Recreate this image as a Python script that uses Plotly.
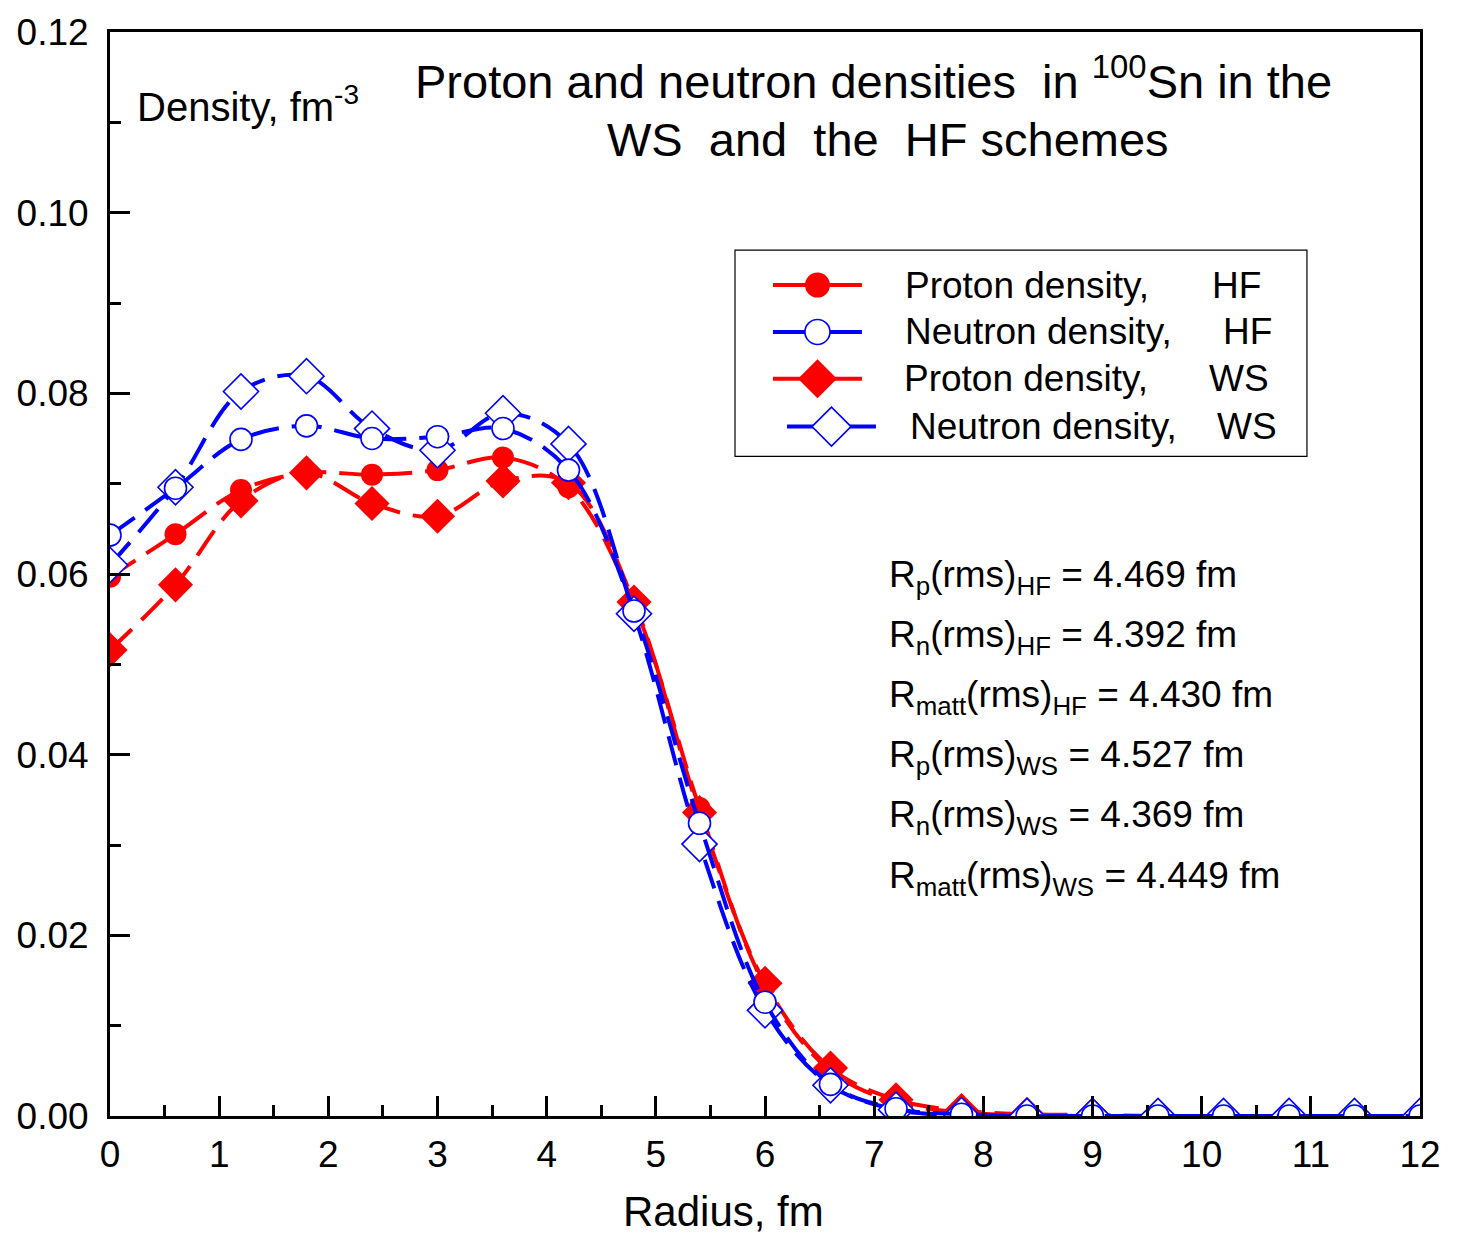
import plotly.graph_objects as go

# Radial grid (fm)
radius = [0.0, 0.6, 1.2, 1.8, 2.4, 3.0, 3.6, 4.2, 4.8, 5.4, 6.0, 6.6,
          7.2, 7.8, 8.4, 9.0, 9.6, 10.2, 10.8, 11.4, 12.0]

# Densities (fm^-3)
proton_hf = [0.0597, 0.0644, 0.0693, 0.0712, 0.0710, 0.0715, 0.0729, 0.0696,
             0.0566, 0.0341, 0.0144, 0.0050, 0.0015, 0.0004, 0.0001, 0.0,
             0.0, 0.0, 0.0, 0.0, 0.0]
neutron_hf = [0.0643, 0.0695, 0.0749, 0.0764, 0.0750, 0.0752, 0.0761, 0.0715,
              0.0559, 0.0324, 0.0126, 0.0035, 0.0008, 0.0002, 0.0, 0.0,
              0.0, 0.0, 0.0, 0.0, 0.0]
proton_ws = [0.0516, 0.0588, 0.0681, 0.0712, 0.0678, 0.0664, 0.0703, 0.0701,
             0.0569, 0.0336, 0.0147, 0.0053, 0.0018, 0.0006, 0.0002, 0.0001,
             0.0, 0.0, 0.0, 0.0, 0.0]
neutron_ws = [0.0610, 0.0696, 0.0802, 0.0819, 0.0761, 0.0737, 0.0778, 0.0744,
              0.0556, 0.0301, 0.0117, 0.0034, 0.0007, 0.0001, 0.0, 0.0,
              0.0, 0.0, 0.0, 0.0, 0.0]

series_names = ["Proton density,", "Neutron density,", "Proton density,", "Neutron density,"]
series_schemes = ["HF", "HF", "WS", "WS"]

rms_labels = [
    "R<sub>p</sub>(rms)<sub>HF</sub> = 4.469 fm",
    "R<sub>n</sub>(rms)<sub>HF</sub> = 4.392 fm",
    "R<sub>matt</sub>(rms)<sub>HF</sub> = 4.430 fm",
    "R<sub>p</sub>(rms)<sub>WS</sub> = 4.527 fm",
    "R<sub>n</sub>(rms)<sub>WS</sub> = 4.369 fm",
    "R<sub>matt</sub>(rms)<sub>WS</sub> = 4.449 fm",
]

FONT = "Liberation Sans, Arial, sans-serif"
RED = "#FF0000"
BLUE = "#0000FF"

styles = [
    dict(color=RED, symbol="circle", size=22, fill=RED, lw=0),
    dict(color=BLUE, symbol="circle", size=22, fill="white", lw=1.6),
    dict(color=RED, symbol="diamond", size=27, fill=RED, lw=0),
    dict(color=BLUE, symbol="diamond", size=27, fill="white", lw=1.6),
]
# drawing order: proton HF, proton WS, neutron WS, neutron HF (open circles on top)
order = [0, 2, 3, 1]
data = [proton_hf, neutron_hf, proton_ws, neutron_ws]

fig = go.Figure()
for i in order:
    s = styles[i]
    fig.add_trace(go.Scatter(
        x=radius, y=data[i], mode="lines+markers",
        line=dict(color=s["color"], width=4, dash="30px,13px", shape="spline", smoothing=1.0),
        marker=dict(symbol=s["symbol"], size=s["size"], color=s["fill"],
                    line=dict(color=s["color"], width=s["lw"])),
        showlegend=False, hoverinfo="skip",
    ))

# Legend drawn inside the frame on an overlay axis spanning the plot (0..1)
leg_rows = [0.7665, 0.7233, 0.6801, 0.6360]
leg_x0 = [0.5061, 0.5061, 0.5061, 0.5168]
leg_len = 0.0679
leg_text_x = [0.6053, 0.6053, 0.6045, 0.6092]
leg_scheme_x = [0.8397, 0.8481, 0.8374, 0.8435]
for k in range(4):
    s = styles[k]
    x0 = leg_x0[k]
    fig.add_trace(go.Scatter(
        x=[x0, x0 + leg_len / 2, x0 + leg_len], y=[leg_rows[k]] * 3,
        xaxis="x2", yaxis="y2", mode="lines+markers",
        line=dict(color=s["color"], width=4),
        marker=dict(symbol=s["symbol"], size=s["size"] + 3, color=s["fill"],
                    opacity=[0, 1, 0], line=dict(color=s["color"], width=s["lw"])),
        showlegend=False, hoverinfo="skip", cliponaxis=False,
    ))

annotations = []
for k in range(4):
    annotations.append(dict(x=leg_text_x[k], y=leg_rows[k], xref="paper", yref="paper",
                            text=series_names[k], showarrow=False, xanchor="left",
                            yanchor="middle", font=dict(size=37, family=FONT, color="black")))
    annotations.append(dict(x=leg_scheme_x[k], y=leg_rows[k], xref="paper", yref="paper",
                            text=series_schemes[k], showarrow=False, xanchor="left",
                            yanchor="middle", font=dict(size=37, family=FONT, color="black")))

rms_y = [575, 635, 695, 756, 816, 877]
for lbl, py in zip(rms_labels, rms_y):
    annotations.append(dict(x=0.5931, y=(1116 - py) / 1088, xref="paper", yref="paper",
                            text=lbl, showarrow=False, xanchor="left", yanchor="middle",
                            font=dict(size=37, family=FONT, color="black")))

annotations += [
    dict(x=0.5832, y=0.9577, xref="paper", yref="paper",
         text="Proton and neutron densities  in <sup>100</sup>Sn in the",
         showarrow=False, xanchor="center", yanchor="middle",
         font=dict(size=47, family=FONT, color="black")),
    dict(x=0.5939, y=0.9008, xref="paper", yref="paper",
         text="WS  and  the  HF schemes",
         showarrow=False, xanchor="center", yanchor="middle",
         font=dict(size=47, family=FONT, color="black")),
    dict(x=0.0191, y=0.9338, xref="paper", yref="paper",
         text="Density, fm<sup>-3</sup>",
         showarrow=False, xanchor="left", yanchor="middle",
         font=dict(size=40, family=FONT, color="black")),
    dict(x=0.468, y=-0.0882, xref="paper", yref="paper",
         text="Radius, fm",
         showarrow=False, xanchor="center", yanchor="middle",
         font=dict(size=42, family=FONT, color="black")),
]

fig.update_layout(
    width=1459, height=1235,
    margin=dict(l=110, r=39, t=28, b=119),
    paper_bgcolor="white", plot_bgcolor="white",
    font=dict(family=FONT, size=37, color="black"),
    showlegend=False,
    annotations=annotations,
    shapes=[dict(type="rect", xref="paper", yref="paper",
                 x0=0.4771, x1=0.9137, y0=0.6085, y1=0.7987,
                 line=dict(color="black", width=1.2), fillcolor="rgba(0,0,0,0)")],
    xaxis=dict(range=[0, 12], dtick=1, tick0=0, ticks="inside", ticklen=20, tickwidth=3,
               tickcolor="black", showline=True, linewidth=3, linecolor="black",
               mirror=True, showgrid=False, zeroline=False,
               minor=dict(dtick=0.5, ticks="inside", ticklen=11, tickwidth=3, tickcolor="black"),
               tickfont=dict(size=37, family=FONT), ticklabelstandoff=4),
    yaxis=dict(range=[0, 0.12], dtick=0.02, tick0=0, ticks="inside", ticklen=20, tickwidth=3,
               tickcolor="black", showline=True, linewidth=3, linecolor="black",
               mirror=True, showgrid=False, zeroline=False, tickformat=".2f",
               minor=dict(dtick=0.01, ticks="inside", ticklen=11, tickwidth=3, tickcolor="black"),
               tickfont=dict(size=37, family=FONT), ticklabelstandoff=11),
    xaxis2=dict(domain=[0, 1], range=[0, 1], overlaying="x", visible=False, fixedrange=True),
    yaxis2=dict(domain=[0, 1], range=[0, 1], overlaying="y", visible=False, fixedrange=True),
)

fig.write_html("out.html")
